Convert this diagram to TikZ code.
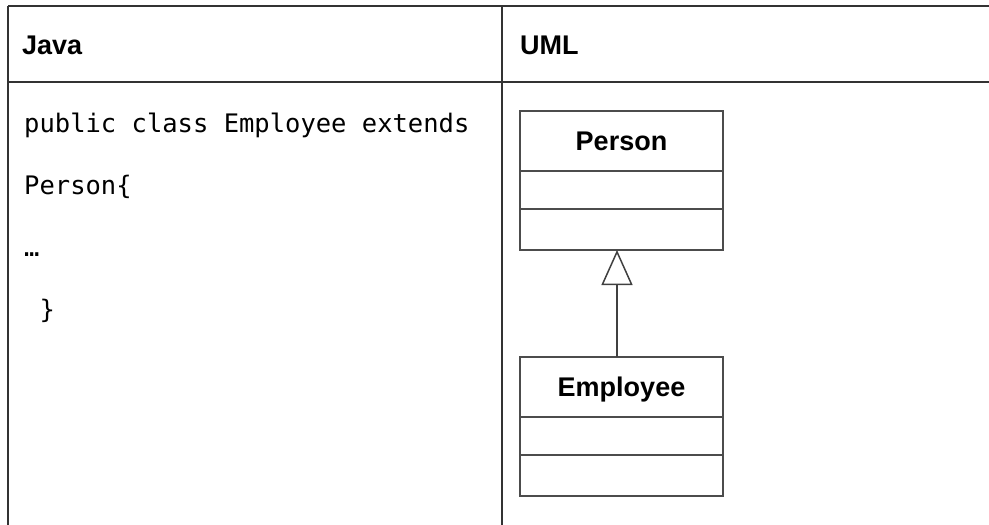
\documentclass[tikz,border=0pt]{standalone}
\usepackage{fontspec}
\setsansfont{Liberation Sans}
\newfontfamily\codefont{DejaVu Sans Mono}
\usetikzlibrary{positioning, arrows.meta}
\tikzset{
x=1pt, y=-1pt, % one unit is one pixel, y grows downwards
rule/.style={line width=2.2pt, draw=black!80}, % lines of the table
head/.style={anchor=base west, inner sep=0pt, font=\sffamily\bfseries\fontsize{27}{32}\selectfont}, % column titles
code/.style={anchor=base west, inner sep=0pt, font=\codefont\fontsize{25.5}{30}\selectfont}, % java source
cls/.style={draw=black!70, line width=1.5pt, minimum width=203pt, minimum height=60pt, inner sep=0pt, outer sep=0pt, text depth=0pt, font=\sffamily\bfseries\fontsize{27}{32}\selectfont}, % class name box
attrs/.style={cls, minimum height=38pt}, % attributes part
ops/.style={cls, minimum height=41pt}, % operations part
inherit/.style={-{Triangle[open, length=35pt, width=31pt]}, line width=1.5pt, draw=black!75}, % generalization
}
\begin{document}
\begin{tikzpicture}
        \useasboundingbox (0,0) rectangle (989,525);

        % table
        \draw[rule] (8,6) -- (989,6);
        \draw[rule] (8,82) -- (989,82);
        \draw[rule] (8,6) -- (8,525);
        \draw[rule] (502,6) -- (502,525);

        \node[head] (java) at (22,54) {Java};
        \node[head] (uml) at (520,54) {UML};

        % left column
        \node[code] (c1) at (24,132) {public class Employee extends};
        \node[code] (c2) at (24,194) {Person\{};
        \node[code] (c3) at (24,256) {…};
        \node[code] (c4) at (24,318) {\hphantom{0}\}};

        % right column
        \node[cls] (person) at (621.5,141) {Person};
        \node[attrs, below=0pt of person] (pattrs) {};
        \node[ops, below=0pt of pattrs] (pops) {};

        \node[cls] (employee) at (621.5,387) {Employee};
        \node[attrs, below=0pt of employee] (eattrs) {};
        \node[ops, below=0pt of eattrs] (eops) {};

        \draw[inherit] ([xshift=-4.5pt]employee.north) -- ([xshift=-4.5pt]pops.south);
      \end{tikzpicture}
\end{document}
